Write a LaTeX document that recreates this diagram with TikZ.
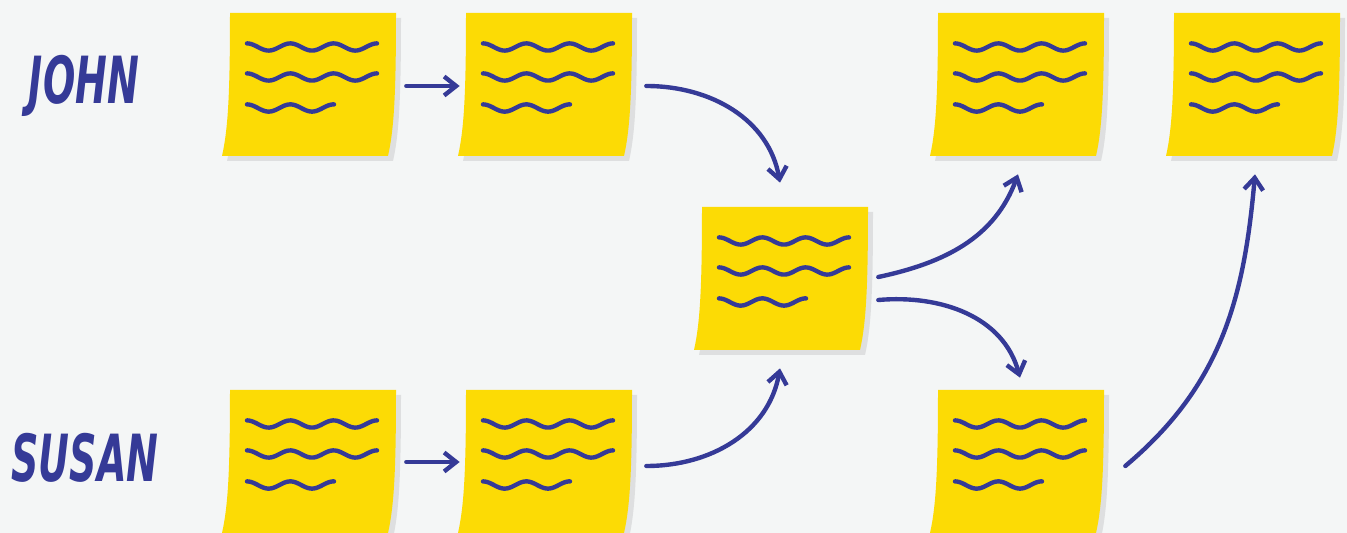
\documentclass[tikz,border=0pt]{standalone}
\usepackage{fontspec}
\newfontfamily\namefont{DejaVu Sans Condensed}[FakeStretch=0.65]
\definecolor{paper}{RGB}{244,246,246}
\definecolor{sticky}{RGB}{252,219,5}
\definecolor{ink}{RGB}{53,58,151}
\definecolor{shade}{RGB}{222,223,224}
\usetikzlibrary{arrows.meta,calc}
\tikzset{
  note/.style={rectangle,minimum width=3.32cm,minimum height=2.86cm,
               inner sep=0pt},
  person/.style={font=\namefont\fontsize{37}{40}\bfseries\itshape\selectfont,
                 text=ink,inner sep=0pt},
  flow/.style={-{Straight Barb[length=2.4mm,width=3.8mm]},line width=2.5pt,
               ink,line cap=round},
  wave/.style={line width=2.5pt,ink,line cap=round},
}

\begin{document}
\begin{tikzpicture}[x=0.02cm,y=0.02cm]
  \fill[paper] (0,0) rectangle (1347,-533);
  \useasboundingbox (0,0) rectangle (1347,-533);
  \clip (0,0) rectangle (1347,-533);

  \node[person] (john) at (84,-86) {JOHN};
  \node[person] (susan) at (85,-458) {SUSAN};

  \node[note] (j1) at (309,-84.5) {};
  \node[note] (j2) at (545,-84.5) {};
  \node[note] (m) at (781,-278.5) {};
  \node[note] (t1) at (1017,-84.5) {};
  \node[note] (t2) at (1253,-84.5) {};
  \node[note] (s1) at (309,-461.5) {};
  \node[note] (s2) at (545,-461.5) {};
  \node[note] (b) at (1017,-461.5) {};

  \foreach \n in {j1,j2,m,t1,t2,s1,s2,b} {
    \begin{scope}[shift={(\n)}]
      \fill[sticky,preaction={fill=shade,transform canvas={shift={(0.1cm,-0.1cm)}}}]
        (-79,71.5) -- (87,71.5) .. controls (87,-10) and (85,-45) .. (79,-71.5)
        -- (-87,-71.5) .. controls (-81,-45) and (-79,-10) .. (-79,71.5) -- cycle;
      \foreach \row/\len in {37.5/130,7.5/130,-23.5/87}
        \draw[wave] plot[domain=0:\len,samples=60,smooth]
          ({\x-62},{\row+3.6*cos(\x*8.31)});
    \end{scope}
  }

  \draw[flow] ($(j1.east)+(14,-1.5)$) -- ($(j2.west)+(-2,-1.5)$);
  \draw[flow] ($(s1.east)+(14,-0.5)$) -- ($(s2.west)+(-2,-0.5)$);
  \draw[flow] ($(j2.east)+(18,-1.5)$) to[out=0,in=100] ($(m.north)+(-1,24)$);
  \draw[flow] ($(s2.east)+(18,-4.5)$) to[out=0,in=-100] ($(m.south)+(-1,-18)$);
  \draw[flow] ($(m.east)+(14,1.5)$) to[out=12,in=-110] ($(t1.south)+(1,-18)$);
  \draw[flow] ($(m.east)+(14,-21.5)$) to[out=5,in=105] ($(b.north)+(3,12)$);
  \draw[flow] ($(b.east)+(25,-4.5)$) to[out=40,in=-95] ($(t2.south)+(2,-18)$);
\end{tikzpicture}
\end{document}
